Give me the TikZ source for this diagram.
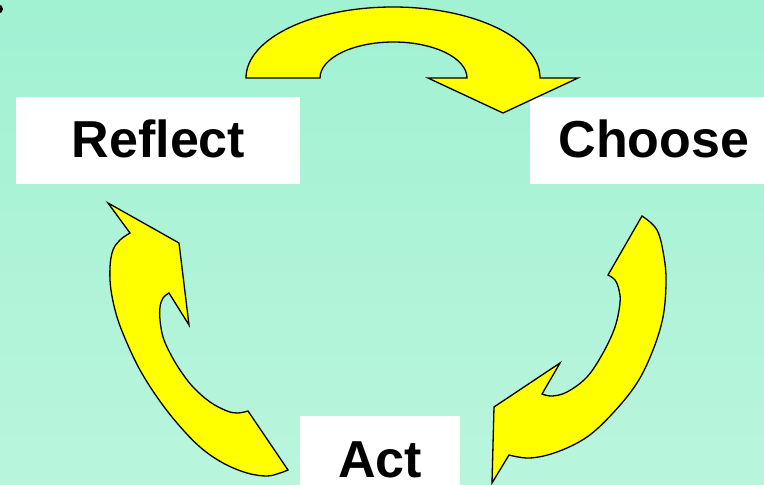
\documentclass[tikz,border=0pt]{standalone}
\usepackage{fontspec}
\setmainfont{Liberation Sans}
\definecolor{bgtop}{RGB}{161,241,211}
\definecolor{bgbot}{RGB}{185,245,221}
\definecolor{arrowyellow}{RGB}{255,255,0}
\tikzset{
  box/.style={fill=white, draw=none, inner sep=0pt},
  label/.style={inner sep=0pt, anchor=base, font=\fontsize{52}{60}\selectfont\bfseries},
  bigarrow/.style={fill=arrowyellow, draw=black, line width=1.3pt, line join=miter}
}
\begin{document}
\begin{tikzpicture}[x=1pt,y=-1pt]
\useasboundingbox (0,0) rectangle (764,485);
\shade[top color=bgtop, bottom color=bgbot] (0,0) rectangle (764,485);
% partial bullet at top-left
\fill[black] (-1.5,9) ellipse (4.5 and 4.5);
% boxes
\node[box, minimum width=284pt, minimum height=87pt] (reflectbox) at (158,140.5) {};
\node[box, minimum width=234pt, minimum height=87pt] (choosebox) at (647,140.5) {};
\node[box, minimum width=160pt, minimum height=69pt] (actbox) at (380,450.5) {};
% labels
\node[label] (reflect) at (158.5,157) {Reflect};
\node[label] (choose) at (654,157) {Choose};
\node[label] (act) at (380,477) {Act};
% top arrow
\draw[bigarrow] (246,78) arc[start angle=180, end angle=360, x radius=147, y radius=71]
  -- (578,78) -- (503,113) -- (428,78) -- (467,78)
  arc[start angle=0, end angle=-180, x radius=73.5, y radius=36] -- cycle;
% right arrow
\draw[bigarrow] (642,216)
  -- plot[smooth, tension=0.6] coordinates {(642,216) (657,230) (664,257) (666,283) (663,317) (653,350) (637,383) (613,413) (587,437) (557,452) (530,458) (509,455)}
  -- (492,483) -- (494,407) -- (560,363) -- (542,394)
  -- plot[smooth, tension=0.6] coordinates {(542,394) (552,396) (567,392) (587,377) (603,353) (615,327) (620,303) (619,290) (615,280) (608,275)}
  -- cycle;
% left arrow
\draw[bigarrow] (108,203) -- (179,243) -- (189,325) -- (169,293)
  -- plot[smooth, tension=0.6] coordinates {(169,293) (163,298) (160,307) (160,320) (163,337) (170,353) (180,370) (193,387) (210,402) (227,411) (238,413) (248,411)}
  -- (288,470)
  -- plot[smooth, tension=0.6] coordinates {(288,470) (280,473) (267,476) (247,473) (223,463) (200,447) (177,423) (157,397) (140,370) (127,343) (117,317) (111,290) (110,267) (113,250) (120,240) (130,233)}
  -- cycle;
\end{tikzpicture}
\end{document}
